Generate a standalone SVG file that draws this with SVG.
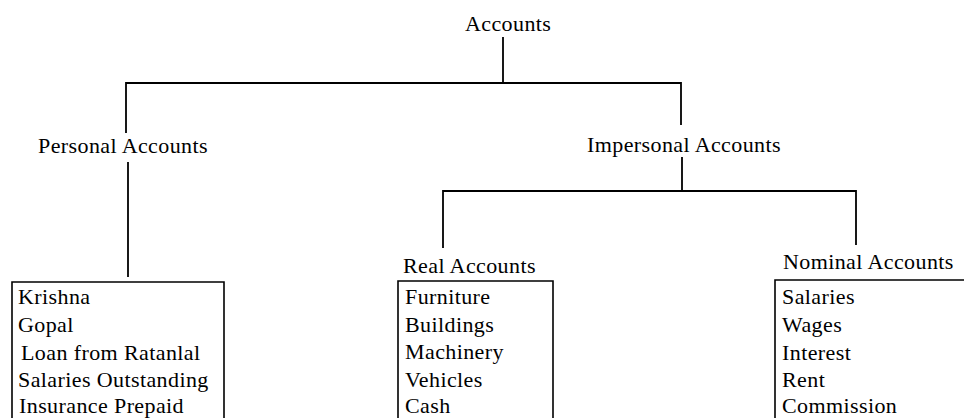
<svg xmlns="http://www.w3.org/2000/svg" width="964" height="418" viewBox="0 0 964 418">
<style>
text{font-family:"Liberation Serif","Times New Roman",serif;font-size:22px;fill:#000;letter-spacing:0.4px}
.ln{stroke:#000;stroke-width:1.8;fill:none}
.box{stroke:#000;stroke-width:1.6;fill:none}
</style>
<rect width="964" height="418" fill="#fff"/>
<g id="connectors">
<path class="ln" d="M503,37 V83 M126,133 V83 H681 V125"/>
<path class="ln" d="M128,162 V277"/>
<path class="ln" d="M682,157 V191 M443,248 V191 H856 V245"/>
</g>
<g id="accounts"><text x="465" y="31">Accounts</text></g>
<g id="personal"><text x="38" y="153">Personal Accounts</text></g>
<g id="impersonal"><text x="587" y="152">Impersonal Accounts</text></g>
<g id="personal-list">
<path class="box" d="M12,430 V282 H224 V430"/>
<text x="18" y="304">Krishna</text>
<text x="18" y="332">Gopal</text>
<text x="21" y="360">Loan from Ratanlal</text>
<text x="18" y="387">Salaries Outstanding</text>
<text x="19" y="413">Insurance Prepaid</text>
</g>
<g id="real">
<text x="403" y="273">Real Accounts</text>
<path class="box" d="M398,430 V281 H553 V430"/>
<text x="405" y="304">Furniture</text>
<text x="405" y="332">Buildings</text>
<text x="405" y="359">Machinery</text>
<text x="405" y="387">Vehicles</text>
<text x="405" y="413">Cash</text>
</g>
<g id="nominal">
<text x="783" y="269">Nominal Accounts</text>
<path class="box" d="M775,430 V280 H970"/>
<text x="782" y="304">Salaries</text>
<text x="782" y="332">Wages</text>
<text x="782" y="360">Interest</text>
<text x="782" y="387">Rent</text>
<text x="782" y="413">Commission</text>
</g>
</svg>
